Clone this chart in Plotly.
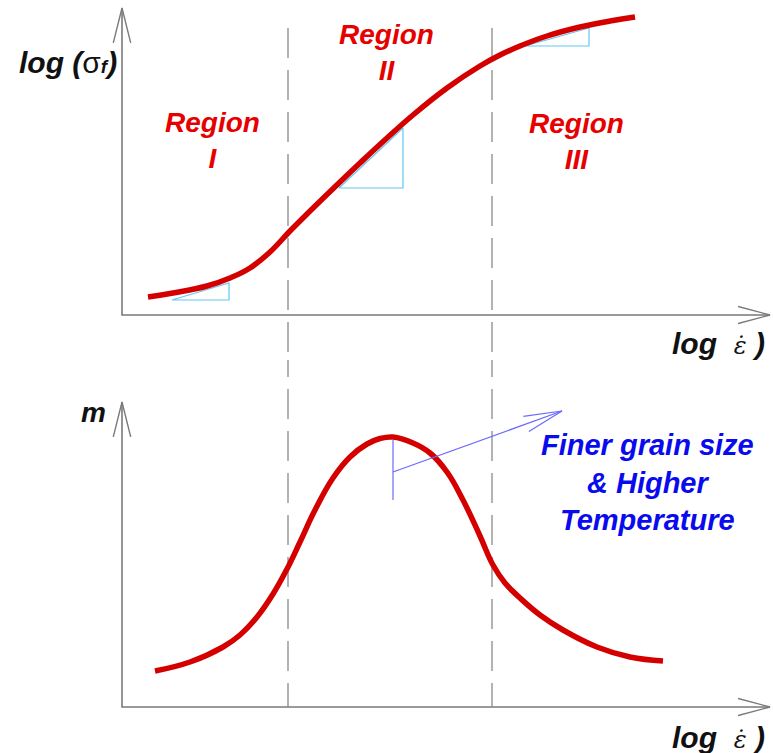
import numpy as np
import plotly.graph_objects as go

# ---------------- data (diagram units: 1 unit ~ 10 px) ----------------
# Upper panel: log(flow stress) vs log(strain rate)
top_x = [2.6, 5.1, 8.5, 10.8, 12.8, 14.8, 16.8, 18.5, 21.8, 23.8, 26.5, 29.1, 32.5, 35.8, 37.8, 39.8, 42.5, 45.8, 49.1, 51.3]
top_y = [1.8, 2.2, 2.9, 3.7, 4.7, 6.3, 8.4, 10.1, 13.3, 15.2, 17.7, 20.0, 22.7, 24.9, 26.0, 26.9, 27.9, 28.8, 29.45, 29.8]

# Lower panel: strain-rate sensitivity m vs log(strain rate)
bot_x = [3.3, 6.8, 10.1, 11.8, 13.5, 15.1, 16.5, 17.8, 19.3, 21.1, 22.8, 24.5, 25.8, 27.1, 29.1,
         30.8, 32.5, 34.1, 35.8, 37.1, 38.3, 39.8, 41.8, 44.1, 47.5, 50.8, 54.1]
bot_y = [3.6, 4.5, 6.0, 7.2, 9.0, 11.3, 13.8, 16.5, 19.7, 22.9, 25.0, 26.3, 26.85, 27.0, 26.4,
         25.4, 23.5, 20.7, 17.1, 14.2, 12.4, 10.9, 9.2, 7.7, 6.0, 5.0, 4.6]

# Region boundaries (log strain rate)
boundaries = [16.6, 37.0]

# Slope triangles in the upper panel: (x_left, x_right, y_bottom, y_top)
tri_x0 = [5.0, 21.7, 40.3]
tri_x1 = [10.7, 28.1, 46.7]
tri_y0 = [1.5, 12.7, 26.9]
tri_y1 = [3.2, 18.7, 28.7]

region_labels = ["Region<br>I", "Region<br>II", "Region<br>III"]
region_lx = [9.0, 26.4, 45.4]
region_ly = [17.5, 26.3, 17.4]

# Shift arrow (lower panel)
shift_base = (27.1, 23.5)
shift_tip = (44.0, 29.6)
shift_tick_y = [20.7, 26.7]

# axis extents
x_len = 64.8
top_ylen = 30.7
bot_ylen = 30.5

# ---------------- figure ----------------
W, H = 773, 753
PX = 10.0  # px per unit
RED = "#d40000"
TXT_RED = "#e60000"
GRAY = "#7a7a7a"
DASH = "#8a8a8a"
CYAN = "#62c8f2"
BLUE = "#6a6aff"
BTXT = "#0a0aee"

fig = go.Figure()

top = dict(xaxis="x", yaxis="y")
bot = dict(xaxis="x", yaxis="y2")


def line(xs, ys, color, width, ref, dash=None):
    fig.add_trace(go.Scatter(x=xs, y=ys, mode="lines", hoverinfo="skip",
                             line=dict(color=color, width=width, dash=dash),
                             showlegend=False, **ref))


def chevron(tx, ty, dx, dy, ref, color, width, length=3.4, half=12):
    # open arrowhead at (tx,ty) pointing along (dx,dy)
    ang = np.arctan2(dy, dx)
    pts_x, pts_y = [], []
    for s in (1, -1):
        a = ang + np.pi + s * np.radians(half)
        pts_x.append(tx + length * np.cos(a))
        pts_y.append(ty + length * np.sin(a))
    line([pts_x[0], tx, pts_x[1]], [pts_y[0], ty, pts_y[1]], color, width, ref)


# axes with open arrowheads
for ref, ylen in ((top, top_ylen), (bot, bot_ylen)):
    line([0, 0, x_len], [ylen, 0, 0], GRAY, 1.6, ref)
    chevron(0, ylen, 0, 1, ref, GRAY, 1.4, length=3.6, half=14)
    chevron(x_len, 0, 1, 0, ref, GRAY, 1.4, length=3.3, half=15)

# dashed region boundaries
for b in boundaries:
    line([b, b], [28.7, -6], DASH, 1.3, top, dash="30px,12px")
    line([b, b], [36, 0], DASH, 1.3, bot, dash="30px,12px")

# slope triangles
for x0, x1, y0, y1 in zip(tri_x0, tri_x1, tri_y0, tri_y1):
    line([x0, x1, x1, x0], [y0, y0, y1, y0], CYAN, 1.2, top)

# curves
fig.add_trace(go.Scatter(x=top_x, y=top_y, mode="lines", hoverinfo="skip", showlegend=False,
                         line=dict(color=RED, width=5.5, shape="spline", smoothing=1.2), **top))
fig.add_trace(go.Scatter(x=bot_x, y=bot_y, mode="lines", hoverinfo="skip", showlegend=False,
                         line=dict(color=RED, width=5.5, shape="spline", smoothing=1.2), **bot))

# shift arrow
line([shift_base[0], shift_base[0]], shift_tick_y, BLUE, 1.2, bot)
line([shift_base[0], shift_tip[0]], [shift_base[1], shift_tip[1]], BLUE, 1.2, bot)
chevron(shift_tip[0], shift_tip[1], shift_tip[0] - shift_base[0], shift_tip[1] - shift_base[1],
        bot, BLUE, 1.2, length=3.9, half=12)

FONT = "Liberation Sans, Arial, sans-serif"
ann = []
for t, x, y in zip(region_labels, region_lx, region_ly):
    ann.append(dict(x=x, y=y, xref="x", yref="y", text=t, showarrow=False,
                    font=dict(family=FONT, size=28, color=TXT_RED, weight="bold", style="italic")))

ann.append(dict(x=-5.4, y=25.3, xref="x", yref="y",
                text='log (<span style="font-weight:normal;font-style:normal">σ</span>'
                     '<span style="font-size:19px">f</span>)',
                showarrow=False,
                font=dict(family=FONT, size=30, color="#111", weight="bold", style="italic")))
eps = ('<span style="font-family:DejaVu Serif, serif;font-weight:normal;'
       'font-style:italic;font-size:24px">ε̇</span>')
for yref, yy in (("y", -2.8), ("y2", -3.0)):
    ann.append(dict(x=59.6, y=yy, xref="x", yref=yref, text="log  " + eps + " )", showarrow=False,
                    font=dict(family=FONT, size=30, color="#111", weight="bold", style="italic")))
ann.append(dict(x=-2.9, y=29.5, xref="x", yref="y2", text="m", showarrow=False,
                font=dict(family=FONT, size=28, color="#111", weight="bold", style="italic")))
ann.append(dict(x=52.5, y=22.5, xref="x", yref="y2",
                text="Finer grain size<br>& Higher<br>Temperature", showarrow=False,
                font=dict(family=FONT, size=29, color=BTXT, weight="bold", style="italic")))

split = 360.0
fig.update_layout(
    width=W, height=H,
    margin=dict(l=0, r=0, t=0, b=0),
    paper_bgcolor="white", plot_bgcolor="white",
    annotations=ann,
    xaxis=dict(range=[-122 / PX, (W - 122) / PX], visible=False, fixedrange=True),
    yaxis=dict(domain=[1 - split / H, 1], range=[(315 - split) / PX, 315 / PX],
               visible=False, fixedrange=True),
    yaxis2=dict(domain=[0, 1 - split / H], range=[(707 - H) / PX, (707 - split) / PX],
                visible=False, fixedrange=True),
)

fig.write_html("out.html")
